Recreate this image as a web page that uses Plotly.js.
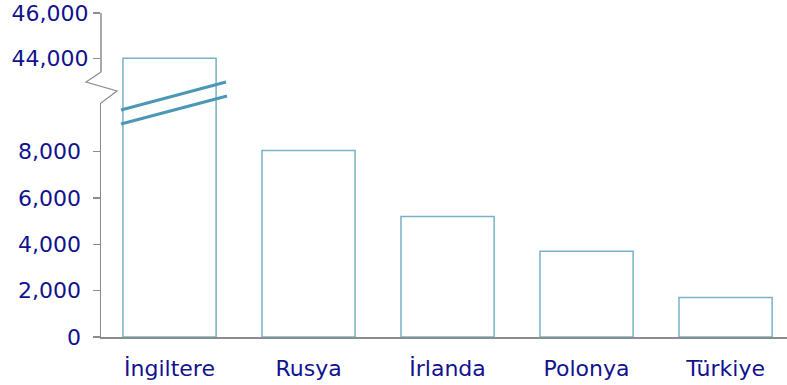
<!DOCTYPE html>
<html>
<head>
<meta charset="utf-8">
<script src="https://cdn.plot.ly/plotly-3.0.1.min.js"></script>
<style>html,body{margin:0;padding:0;background:#fff;}</style>
</head>
<body>
<div id="chart" style="width:787px;height:385px;"></div>
<script>
const categories = ["İngiltere", "Rusya", "İrlanda", "Polonya", "Türkiye"];
const values = [44000, 8040, 5200, 3700, 1700];
const lowerTicks = [0, 2000, 4000, 6000, 8000];
const upperTicks = [44000, 46000];

const navy = "#12128f";
const grey = "#8c8c8c";
const barLine = "#78b2c6";
const breakColor = "#4a98b6";
const tickFont = {family: "DejaVu Sans, Verdana, sans-serif", size: 22, color: navy};

const barStyle = {
  type: "bar",
  x: categories,
  y: values,
  width: 0.67,
  marker: {color: "rgba(255,255,255,0)", line: {color: barLine, width: 1.5}},
  hoverinfo: "none",
  showlegend: false
};

const traces = [
  Object.assign({}, barStyle, {xaxis: "x", yaxis: "y"}),
  Object.assign({}, barStyle, {xaxis: "x", yaxis: "y2"})
];

// pixel helpers for paper-referenced decoration (plot area: x 101..787, y 13..337)
const px = p => (p - 101) / 686;
const py = p => (337 - p) / 324;

const layout = {
  width: 787, height: 385,
  margin: {l: 101, r: 0, t: 13, b: 48},
  paper_bgcolor: "#fff", plot_bgcolor: "rgba(0,0,0,0)",
  bargap: 0.33,
  xaxis: {
    type: "category",
    range: [-0.493, 4.442],
    anchor: "y",
    showline: true, linecolor: grey, linewidth: 1.5,
    ticks: "", showgrid: false, zeroline: false,
    tickfont: tickFont,
    ticklabelstandoff: 11
  },
  yaxis: {
    domain: [0, py(103)],
    range: [0, 10092],
    anchor: "x",
    tickvals: lowerTicks,
    tickformat: ",d",
    showline: true, linecolor: grey, linewidth: 1.5,
    ticks: "outside", ticklen: 7, tickcolor: grey, tickwidth: 1.5,
    showgrid: false, zeroline: false,
    tickfont: tickFont,
    ticklabelstandoff: 7
  },
  yaxis2: {
    domain: [py(103), 1],
    range: [42027, 46000],
    anchor: "x",
    tickvals: upperTicks,
    tickformat: ",d",
    showline: false,
    ticks: "outside", ticklen: 7, tickcolor: grey, tickwidth: 1.5,
    showgrid: false, zeroline: false,
    tickfont: tickFont
  },
  shapes: [
    {type: "line", xref: "paper", yref: "paper", x0: 0, y0: py(13), x1: 0, y1: py(72),
     line: {color: grey, width: 1.5}},
    {type: "path", xref: "paper", yref: "paper",
     path: `M ${px(101)} ${py(72)} L ${px(86)} ${py(82)} L ${px(117)} ${py(91)} L ${px(101)} ${py(103)}`,
     line: {color: grey, width: 1.2}},
    {type: "line", xref: "paper", yref: "paper", x0: px(121), y0: py(110), x1: px(226), y1: py(82),
     line: {color: breakColor, width: 3}},
    {type: "line", xref: "paper", yref: "paper", x0: px(121), y0: py(124), x1: px(227), y1: py(96),
     line: {color: breakColor, width: 3}}
  ]
};

Plotly.newPlot("chart", traces, layout, {displayModeBar: false, staticPlot: true});
</script>
</body>
</html>
